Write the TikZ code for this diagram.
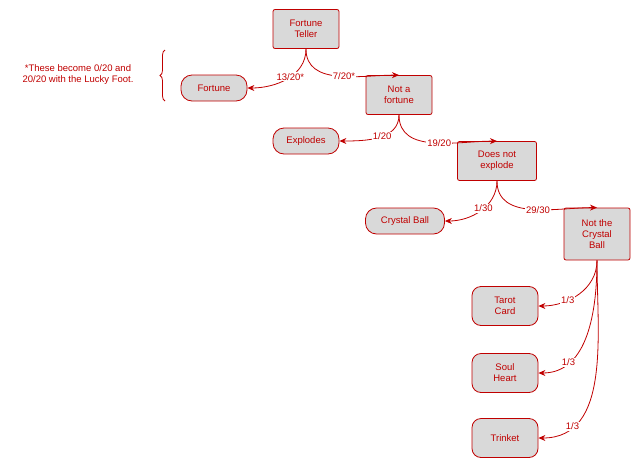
\documentclass[tikz,border=0pt]{standalone}
\usepackage{fontspec}
\setmainfont{Liberation Sans}
\usetikzlibrary{arrows.meta,decorations.pathreplacing}
\definecolor{rd}{HTML}{C00000}
\definecolor{gf}{HTML}{D9D9D9}
\begin{document}
\begin{tikzpicture}[x=1pt,y=-1pt,
  font=\fontsize{9.5}{11}\selectfont,
  box/.style={draw=rd,fill=gf,thick,rounded corners=2pt,text=rd,align=center,minimum width=66pt,minimum height=39pt,inner sep=1pt},
  pill/.style={draw=rd,fill=gf,thick,rounded corners=11pt,text=rd,align=center,minimum width=66pt,minimum height=26pt,inner sep=1pt},
  edge/.style={draw=rd,thick,-{Stealth[length=7pt,width=6pt]}},
  lbl/.style={fill=white,text=rd,inner sep=1pt}]
\useasboundingbox (0,0) rectangle (640,469);
\node[box] (ft) at (306,29) {Fortune\\Teller};
\node[box] (naf) at (399,95) {Not a\\fortune};
\node[box,minimum width=79pt] (dne) at (497,161) {Does not\\explode};
\node[box,minimum height=52pt] (ncb) at (597,234) {Not the\\Crystal\\Ball};
\node[pill] (fo) at (214,88) {Fortune};
\node[pill] (ex) at (306,141) {Explodes};
\node[pill,minimum width=79pt] (cb) at (405,221) {Crystal Ball};
\node[box,rounded corners=9pt] (tc) at (505,306) {Tarot\\Card};
\node[box,rounded corners=9pt] (sh) at (505,373) {Soul\\Heart};
\node[box,rounded corners=9pt] (tr) at (505,438) {Trinket};
\node[text=rd,align=center] (note) at (78,75) {*These become 0/20 and\\20/20 with the Lucky Foot.};
\draw[rd,thick,decorate,decoration={brace,amplitude=5pt}] (165,101) -- (165,50) coordinate (br);
\draw[edge] (ft.south) to[out=-90,in=180] node[lbl,pos=0.55] {7/20*} (naf.north);
\draw[edge] (ft.south) to[out=-90,in=0] node[lbl,pos=0.45] {13/20*} (fo.east);
\draw[edge] (naf.south) to[out=-90,in=180] node[lbl,pos=0.55] {19/20} (dne.north);
\draw[edge] (naf.south) to[out=-90,in=0] node[lbl,pos=0.45] {1/20} (ex.east);
\draw[edge] (dne.south) to[out=-90,in=180] node[lbl,pos=0.55] {29/30} (ncb.north);
\draw[edge] (dne.south) to[out=-90,in=0] node[lbl,pos=0.45] {1/30} (cb.east);
\draw[edge] (ncb.south) to[out=-90,in=0] node[lbl,pos=0.65] {1/3} (tc.east);
\draw[edge] (ncb.south) to[out=-90,in=0] node[lbl,pos=0.75] {1/3} (sh.east);
\draw[edge] (ncb.south) to[out=-90,in=0] node[lbl,pos=0.8] {1/3} (tr.east);
\end{tikzpicture}
\end{document}
